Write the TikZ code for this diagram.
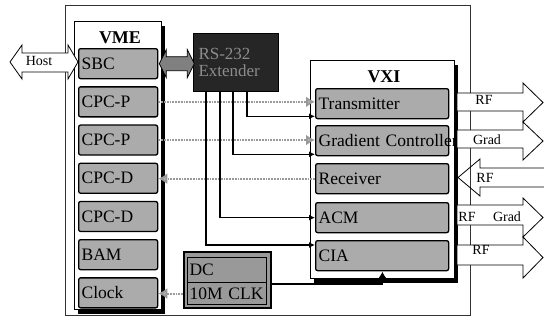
\documentclass[tikz,border=0pt]{standalone}
\usepackage{fontspec}
\setmainfont{Liberation Serif}
\usetikzlibrary{arrows.meta,calc,shadows}
\begin{document}
\begin{tikzpicture}[x=1pt,y=-1pt,
  modfont/.style={font=\fontsize{17.5}{18}\selectfont},
  modbox/.style={draw=black, line width=1.3pt, fill=black!33, rounded corners=2pt,
    minimum height=30pt, inner xsep=3pt, inner ysep=0pt, align=left, anchor=north west, modfont},
  vmemod/.style={modbox, minimum width=79pt, text width=73pt},
  vximod/.style={modbox, minimum width=133pt, text width=127pt},
  container/.style={draw=black, line width=0.8pt, fill=white, anchor=north west,
    drop shadow={shadow xshift=4pt, shadow yshift=-5pt, fill=black, opacity=1}},
  title/.style={font=\bfseries\fontsize{18}{20}\selectfont},
  sig/.style={draw=black!40, line width=2pt, dash pattern=on 1.8pt off 1pt,
    -{Latex[length=9pt,width=11pt,fill=black!30]}},
  ctl/.style={draw=black, line width=1.2pt, -{Latex[length=6pt,width=6pt]}},
  bigarrow/.style={draw=black, line width=0.8pt, fill=white},
  fat/.style={draw=black, line width=0.8pt, fill=black!50},
  lbl/.style={font=\fontsize{14}{14}\selectfont, inner sep=0pt}
]
\useasboundingbox (0,0) rectangle (544,327);

% outer frame
\draw[black!80, line width=0.8pt] (65,5) rectangle (470,315);

% containers
\node[container, minimum width=87pt, minimum height=288pt] (vme) at (74,21) {};
\node[title] (vmelbl) at (120,38) {VME};
\node[container, minimum width=144pt, minimum height=218pt] (vxi) at (310,60) {};
\node[title] (vxilbl) at (384,77) {VXI};

% VME modules
\node[vmemod] (sbc)   at (78,48)    {SBC};
\node[vmemod] (cpcp1) at (78,86.2)  {CPC-P};
\node[vmemod] (cpcp2) at (78,124.4) {CPC-P};
\node[vmemod] (cpcd1) at (78,162.6) {CPC-D};
\node[vmemod] (cpcd2) at (78,200.8) {CPC-D};
\node[vmemod] (bam)   at (78,239)   {BAM};
\node[vmemod] (clock) at (78,277.2) {Clock};

% VXI modules
\node[vximod] (tx)  at (315,88)  {Transmitter};
\node[vximod] (gc)  at (315,125) {\mbox{Gradient Controller}};
\node[vximod] (rx)  at (315,163) {Receiver};
\node[vximod] (acm) at (315,202) {ACM};
\node[vximod] (cia) at (315,240) {CIA};

% RS-232 extender
\node[draw=black, line width=1pt, fill=black!85, anchor=north west,
      minimum width=85pt, minimum height=58pt, text width=75pt, inner xsep=5pt,
      align=left, text=black!45, font=\fontsize{17}{17}\selectfont] (ext) at (193,33)
      {RS-232\\Extender};

% DC / 10M CLK
\node[draw=black, line width=2pt, fill=black!40, anchor=north west,
      minimum width=87pt, minimum height=56pt] (dc) at (183,251) {};
\node[draw=black, line width=1pt, anchor=north west, minimum width=79pt, minimum height=25pt,
      text width=75pt, inner xsep=2pt, inner ysep=0pt, align=left, modfont] (dctop) at (187,257) {DC};
\node[draw=black, line width=1pt, anchor=north west, minimum width=79pt, minimum height=22pt,
      text width=75pt, inner xsep=2pt, inner ysep=0pt, align=left, modfont] (dcbot) at (187,282) {10M CLK};

% SBC <-> extender fat arrow
\draw[fat, shift={(sbc.east)}] (1,0) -- (8,-14) -- (8,-7) -- (29,-7) -- (29,-14) -- (36,0)
   -- (29,14) -- (29,7) -- (8,7) -- (8,14) -- cycle;

% dotted signal connectors
\draw[sig] (cpcp1.east) -- (cpcp1.east -| tx.west);
\draw[sig] (cpcp2.east) -- (cpcp2.east -| gc.west);
\draw[sig] (rx.west) -- (rx.west -| cpcd1.east);
\draw[sig] (dc.west |- dcbot.west) -- (dcbot.west -| clock.east);

% control lines from extender
\draw[ctl] ([xshift=54pt]ext.south west) |- ([yshift=3pt]tx.south west);
\draw[ctl] ([xshift=40pt]ext.south west) |- ([yshift=2pt]gc.south west);
\draw[ctl] ([xshift=27pt]ext.south west) |- (acm.west);
\draw[ctl] ([xshift=13pt]ext.south west) |- ([yshift=-5pt]cia.north west);

% DC to VXI
\draw[draw=black, line width=1.2pt, -{Latex[length=7pt,width=9pt]}]
   ([yshift=-4pt]dc.east) -| ([yshift=7pt]vxi.south);

% Host arrow
\draw[bigarrow] (10,62) -- (22,45) -- (22,53) -- (68,53) -- (68,45) -- (78,62)
   -- (68,79) -- (68,72) -- (22,72) -- (22,79) -- cycle;
\node[lbl] (host) at (39,61) {Host};

% right side arrows
\draw[bigarrow] (457,93) -- (523,93) -- (523,83) -- (543,102.5) -- (523,122) -- (523,111) -- (457,111) -- cycle;
\node[lbl] (rf1) at (484,100) {RF};
\draw[bigarrow] (457,130) -- (523,130) -- (523,122) -- (543,141) -- (523,160) -- (523,148) -- (457,148) -- cycle;
\node[lbl] (grad1) at (487,139.5) {Grad};
\draw[black, line width=0.8pt] (545,168) -- (480,168) -- (480,159) -- (458,177.5) -- (480,196) -- (480,187) -- (545,187);
\node[lbl] (rf2) at (485,178) {RF};
\draw[bigarrow] (457,205) -- (523,205) -- (523,198) -- (543,217.5) -- (523,237) -- (523,225) -- (457,225) -- cycle;
\node[lbl] (rf3) at (467,216.5) {RF};
\node[lbl] (grad2) at (507,216.5) {Grad};
\draw[bigarrow] (457,245) -- (523,245) -- (523,237) -- (543,257.5) -- (523,278) -- (523,265) -- (457,265) -- cycle;
\node[lbl] (rf4) at (481,250) {RF};
\end{tikzpicture}
\end{document}
